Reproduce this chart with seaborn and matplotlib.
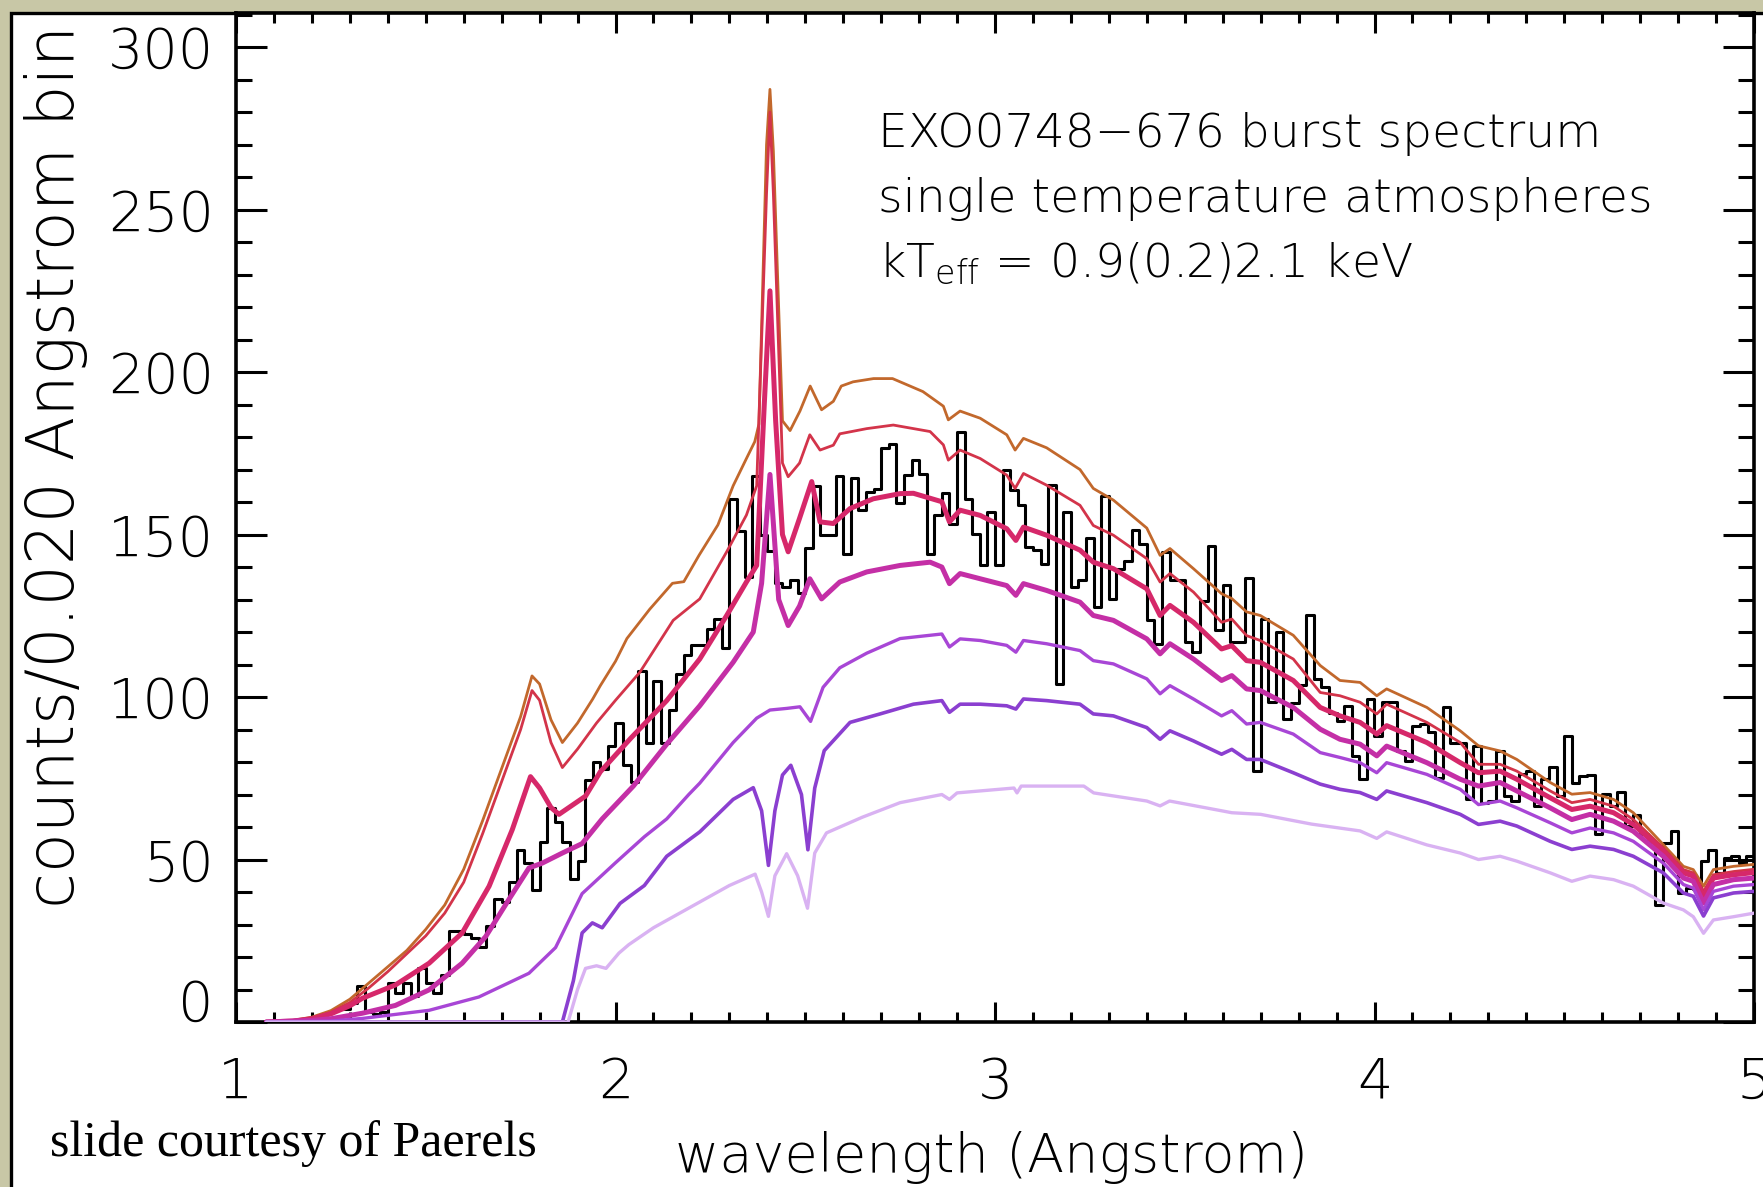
import numpy as np
import pandas as pd
import matplotlib
matplotlib.use("Agg")
import matplotlib.pyplot as plt
import seaborn as sns
from matplotlib.patches import Rectangle
from matplotlib.ticker import MultipleLocator, FuncFormatter
from matplotlib.transforms import ScaledTranslation

sns.set_theme(style="ticks")
plt.rcParams["font.family"] = ["DejaVu Sans"]
plt.rcParams["font.weight"] = "light"
plt.rcParams["mathtext.fontset"] = "dejavusans"
for key in ("text.color", "axes.labelcolor", "xtick.color", "ytick.color", "axes.edgecolor"):
    plt.rcParams[key] = "black"

# ---- observed burst spectrum: counts per 0.020 A bin, first bin starts at 1.28 A
bin_start = 1.28
bin_width = 0.02
counts = [
    4, 6, 11, 3, 2.5, 3, 12, 9, 12, 8, 16.5, 12, 9, 14.5, 28, 28, 27, 26, 23, 29.5,
    38, 37, 43, 53, 49, 40.5, 55.5, 66, 61.5, 55.5, 44, 49.5, 74.5, 80, 78, 85,
    92, 79, 74, 108, 86, 105, 86, 96, 107, 113, 116, 116, 121, 124, 115, 161, 151, 137,
    168, 150, 145, 135, 134, 136, 132, 146, 165, 150, 150, 168, 144, 167.5, 157.5, 163,
    164, 176.5, 178, 159.6, 168.3, 173, 168.7, 144, 156, 162.7, 153.4, 181.7, 161, 150.3,
    140.5, 157, 140.5, 170, 163.7, 159, 146.2, 145.2, 141, 165.4, 104, 157, 134, 136,
    148.8, 127.7, 162, 130.3, 139.5, 142, 151.3, 147.2, 123.6, 116.4, 144.7, 136, 136,
    117, 114, 129.7, 146.5, 120.5, 134.5, 117, 117, 136.6, 77.3, 124, 98.4, 120, 93.2,
    98.1, 103.7, 125.1, 105.5, 103, 95, 92.5, 97.2, 81.9, 74.7, 99.4, 87.9, 98.6, 98.6,
    83.4, 80.3, 91.2, 91.7, 89.1, 75.2, 96.8, 86, 86, 68.5, 85, 67.3, 68, 83.4, 69.5,
    68, 76.2, 77.2, 66.4, 74.7, 78.5, 69.5, 87.9, 73.7, 75.6, 76, 58, 70.1, 66.4, 70.7,
    60.3, 63.7, 58, 55.3, 36.1, 55, 58.7, 39.7, 41.2, 41, 49.5, 52.9, 45.9, 50.5, 51,
    49, 51,
]

# ---- model atmosphere spectra, kT_eff = 2.1 ... 0.9 keV (top to bottom)
lam_21 = [1.08, 1.15, 1.20, 1.25, 1.30, 1.35, 1.40, 1.45, 1.50, 1.55, 1.60, 1.65, 1.70, 1.75,
          1.78, 1.80, 1.83, 1.86, 1.90, 1.94, 1.96, 2.00, 2.03, 2.09, 2.15, 2.18, 2.22, 2.27,
          2.31, 2.345, 2.367, 2.378, 2.398, 2.407, 2.416, 2.44, 2.46, 2.486, 2.513, 2.543,
          2.574, 2.595, 2.626, 2.68, 2.73, 2.81, 2.864, 2.877, 2.908, 2.961, 3.031, 3.053,
          3.075, 3.136, 3.224, 3.259, 3.312, 3.40, 3.435, 3.461, 3.523, 3.597, 3.624, 3.663,
          3.699, 3.786, 3.857, 3.909, 3.962, 4.006, 4.032, 4.138, 4.226, 4.274, 4.331, 4.375,
          4.463, 4.52, 4.568, 4.63, 4.682, 4.761, 4.814, 4.84, 4.867, 4.893, 4.946, 5.0]
cnt_21 = [0, 0.5, 1.5, 3.5, 7, 12, 17, 22, 28.5, 36, 47, 62, 78, 94,
          106.5, 104, 93, 86, 92, 99.4, 103.5, 111, 118, 127, 135, 135.5, 143.6, 153,
          165, 173.4, 178.6, 184, 270, 287, 268, 185, 182, 188, 195.7, 188.4,
          191, 195.7, 197, 198, 198, 194, 189.5, 185.3, 188, 185.8, 180.7, 176,
          179.6, 176.7, 170, 164.2, 160.6, 152, 143.6, 145.7, 139.5, 131.8, 130.3, 126.2,
          125.1, 119, 109.7, 105.1, 104.5, 100.4, 102.5, 96.8, 89.6, 85, 83.4, 80.8,
          73.7, 70.1, 70.6, 68.5, 64.4, 54.6, 47.9, 46.9, 41.8, 46.9, 47.9, 48.5]

lam_19 = [1.08, 1.15, 1.20, 1.25, 1.30, 1.35, 1.40, 1.45, 1.50, 1.55, 1.60, 1.65, 1.70, 1.75,
          1.78, 1.80, 1.83, 1.86, 1.90, 1.95, 2.00, 2.064, 2.152, 2.222, 2.293, 2.345, 2.372,
          2.398, 2.407, 2.416, 2.44, 2.455, 2.485, 2.512, 2.539, 2.574, 2.591, 2.662, 2.732,
          2.829, 2.864, 2.877, 2.908, 2.961, 3.031, 3.053, 3.075, 3.136, 3.224, 3.259, 3.312,
          3.40, 3.435, 3.461, 3.523, 3.597, 3.624, 3.663, 3.699, 3.786, 3.857, 3.909, 3.962,
          4.006, 4.032, 4.138, 4.226, 4.274, 4.331, 4.375, 4.463, 4.52, 4.568, 4.63, 4.682,
          4.761, 4.814, 4.84, 4.867, 4.893, 4.946, 5.0]
cnt_19 = [0, 0.4, 1.3, 3, 6, 10.5, 15.5, 21, 26.5, 33.5, 43, 58, 74, 90,
          102, 99, 86, 78.3, 84, 92, 99, 107.6, 123.6, 130.2, 144.7, 156, 165,
          255, 280, 255, 172, 167.8, 172, 180.7, 176, 177.5, 181, 182.6, 183.7,
          181.7, 177.6, 172.9, 176, 173.4, 168.3, 164.2, 168.8, 165.2, 159, 152.8, 149.8,
          142.6, 135.4, 138, 132.3, 123, 124, 118.9, 117.4, 111.7, 101.4, 100.4, 98.4,
          94.8, 97.8, 92.2, 86, 79.3, 79.3, 77.2, 71.1, 67.5, 68.5, 66.4, 62.3,
          53.6, 46.9, 45.9, 40.2, 45.3, 46.3, 47]

lam_17 = [1.08, 1.15, 1.20, 1.25, 1.30, 1.333, 1.42, 1.509, 1.596, 1.667, 1.728, 1.776, 1.80,
          1.83, 1.851, 1.921, 1.96, 2.04, 2.135, 2.222, 2.293, 2.345, 2.372, 2.392, 2.407,
          2.422, 2.44, 2.455, 2.485, 2.517, 2.539, 2.574, 2.618, 2.679, 2.75, 2.785, 2.86,
          2.88, 2.908, 2.961, 3.031, 3.055, 3.075, 3.136, 3.224, 3.259, 3.312, 3.40, 3.435,
          3.461, 3.523, 3.597, 3.624, 3.663, 3.699, 3.786, 3.857, 3.909, 3.962, 4.006, 4.032,
          4.138, 4.226, 4.274, 4.331, 4.375, 4.463, 4.52, 4.568, 4.63, 4.682, 4.761, 4.814,
          4.84, 4.867, 4.893, 4.946, 5.0]
cnt_17 = [0, 0.3, 1, 2.5, 5, 7.3, 11.4, 18.1, 27.4, 41.8, 59.2, 75.5, 72,
          66, 63.9, 69.5, 77, 87.3, 98.9, 111.7, 125.1, 135.4, 140.5, 190, 225,
          185, 150, 144.7, 155, 166.3, 153.9, 153.4, 158, 161, 162.6, 162.7, 160.1,
          153.9, 157.5, 155.9, 151.8, 148.2, 152.3, 149.8, 145.2, 141.5, 139.5, 133.3, 125.1,
          128.2, 123, 114.8, 115.8, 111.2, 110.7, 105.1, 96.8, 94.2, 92.2, 88.6, 91.2,
          86, 79.8, 76.7, 77.2, 74.7, 69, 65.4, 66.4, 64.4, 60.8, 52.6, 45.9,
          44.9, 38.7, 44.3, 45.3, 46]

lam_15 = [1.08, 1.20, 1.25, 1.333, 1.42, 1.509, 1.596, 1.658, 1.719, 1.772, 1.807, 1.86,
          1.912, 1.965, 2.047, 2.135, 2.222, 2.31, 2.363, 2.385, 2.407, 2.43, 2.455, 2.485,
          2.512, 2.543, 2.591, 2.662, 2.75, 2.829, 2.86, 2.88, 2.908, 2.961, 3.031, 3.055,
          3.075, 3.136, 3.224, 3.259, 3.312, 3.40, 3.435, 3.461, 3.523, 3.597, 3.624, 3.663,
          3.699, 3.786, 3.857, 3.909, 3.962, 4.006, 4.032, 4.138, 4.226, 4.274, 4.331, 4.375,
          4.463, 4.52, 4.568, 4.63, 4.682, 4.761, 4.814, 4.84, 4.867, 4.893, 4.946, 5.0]
cnt_15 = [0, 0.5, 1, 2.7, 5.1, 9.9, 18.1, 26.3, 37.7, 47.4, 48.9, 52,
          54.9, 62.5, 72.6, 85.5, 97.3, 110.7, 120, 135, 168.5, 130, 122, 128,
          136.4, 130.2, 135.4, 138.5, 140.5, 141.5, 140, 134.9, 138, 136.4, 134.3, 131.3,
          134.9, 132.8, 129.2, 125.1, 123.6, 117.9, 113.3, 116.4, 111.7, 105.1, 106.6, 102.5,
          102, 96.8, 90.1, 87, 85.5, 81.9, 84.9, 79.8, 74.7, 72.6, 73.7, 71.1,
          65.9, 62.3, 63.9, 61.8, 58.7, 51, 44.3, 43.3, 36.6, 42.3, 43.8, 44.3]

lam_13 = [1.08, 1.25, 1.333, 1.509, 1.64, 1.772, 1.842, 1.912, 2.0, 2.076, 2.135, 2.193,
          2.222, 2.31, 2.372, 2.407, 2.451, 2.486, 2.514, 2.547, 2.591, 2.662, 2.75, 2.86,
          2.88, 2.908, 2.961, 3.031, 3.055, 3.075, 3.136, 3.224, 3.259, 3.312, 3.40, 3.435,
          3.461, 3.523, 3.597, 3.624, 3.663, 3.699, 3.786, 3.857, 3.909, 3.962, 4.006, 4.032,
          4.138, 4.226, 4.274, 4.331, 4.375, 4.463, 4.52, 4.568, 4.63, 4.682, 4.761, 4.814,
          4.84, 4.867, 4.893, 4.946, 5.0]
cnt_13 = [0, 0.3, 1.1, 3.6, 7.7, 15, 22.9, 39.5, 49, 57, 62.5, 70,
          73.5, 86, 93.5, 96, 96.5, 97, 92.5, 103, 109, 113.5, 118, 119.4,
          115.4, 117.9, 117.4, 115.9, 113.8, 117.4, 116.4, 114.3, 111.2, 110.2, 105.6, 101,
          103.5, 99.4, 94.2, 95.8, 91.7, 92.2, 88.6, 82.9, 81.4, 79.8, 76.7, 79.8,
          76.2, 71.6, 66.9, 68, 65.9, 61.3, 58.2, 59.7, 58.2, 55.6, 48.9, 42.3,
          41.2, 34.5, 40.2, 41.8, 42.3]

lam_11 = [1.08, 1.86, 1.889, 1.912, 1.939, 1.965, 2.012, 2.076, 2.135, 2.222, 2.31, 2.363,
          2.385, 2.403, 2.42, 2.44, 2.462, 2.49, 2.507, 2.525, 2.55, 2.618, 2.697, 2.785,
          2.86, 2.88, 2.908, 2.961, 3.031, 3.055, 3.075, 3.136, 3.224, 3.259, 3.312, 3.40,
          3.435, 3.461, 3.523, 3.597, 3.624, 3.663, 3.699, 3.786, 3.857, 3.909, 3.962, 4.006,
          4.032, 4.138, 4.226, 4.274, 4.331, 4.375, 4.463, 4.52, 4.568, 4.63, 4.682, 4.761,
          4.814, 4.84, 4.867, 4.893, 4.946, 5.0]
cnt_11 = [0, 0, 12.7, 27.4, 30.5, 29, 36.5, 42, 51, 58.5, 68.5, 72.1,
          65, 48.2, 65, 76, 79, 70, 53, 72, 83.5, 92.2, 94.8, 97.8,
          98.9, 95.3, 97.8, 97.8, 97.3, 96.3, 99.4, 98.9, 97.8, 94.8, 94.2, 90.6,
          87, 89.6, 86.5, 82.4, 83.9, 80.8, 80.8, 76.7, 73.2, 71.6, 70.6, 68.5,
          71.1, 67.5, 63.9, 60.8, 61.8, 60.3, 55.6, 53.1, 54.1, 53.1, 51, 45.9,
          39.7, 38.7, 32.6, 38.2, 39.7, 40.2]

lam_09 = [1.08, 1.875, 1.90, 1.921, 1.95, 1.975, 2.009, 2.035, 2.10, 2.20, 2.30, 2.368,
          2.385, 2.403, 2.42, 2.451, 2.48, 2.506, 2.525, 2.556, 2.65, 2.75, 2.86, 2.88,
          2.90, 3.05, 3.058, 3.069, 3.234, 3.26, 3.40, 3.435, 3.46, 3.597, 3.624, 3.70,
          3.834, 3.962, 4.006, 4.032, 4.138, 4.226, 4.274, 4.331, 4.375, 4.463, 4.52, 4.568,
          4.63, 4.682, 4.761, 4.814, 4.84, 4.867, 4.893, 4.946, 5.0]
cnt_09 = [0, 0, 10, 16.5, 17.3, 16.5, 21.2, 23.8, 29, 35.5, 42, 45.5,
          40, 32.5, 45, 51.8, 45, 35, 52, 58.2, 63, 67.5, 70, 68.5,
          70.5, 72, 70.5, 72.6, 72.6, 70.5, 68, 66.5, 68, 65, 64.4, 63.9,
          60.9, 58.8, 56.5, 58.5, 54.5, 52, 50, 51, 49.5, 45.9, 43.3, 44.9,
          43.8, 41.8, 36.6, 34.5, 32.4, 27.3, 31.4, 32.4, 33.5]

models = [
    (lam_21, cnt_21, "#c2682c", 2.0),
    (lam_19, cnt_19, "#d3344a", 2.0),
    (lam_17, cnt_17, "#d6286a", 3.6),
    (lam_15, cnt_15, "#c42fa6", 3.6),
    (lam_13, cnt_13, "#a846d6", 2.4),
    (lam_11, cnt_11, "#8b3fd0", 2.6),
    (lam_09, cnt_09, "#d9b2f2", 2.4),
]

W, H = 1763, 1187
fig = plt.figure(figsize=(W / 100, H / 100), dpi=100, facecolor="#c8c7a6")

# white slide panel with a black frame
fig.add_artist(Rectangle((11 / W, -0.05), 1.1, 1.05 - 13 / H, transform=fig.transFigure,
                         facecolor="white", edgecolor="black", linewidth=2.4, zorder=-5))

ax = fig.add_axes([236 / W, 1 - 1022 / H, (1754 - 236) / W, (1022 - 13) / H])
ax.set_facecolor("white")

edges = bin_start + bin_width * np.arange(len(counts) + 1)
spectrum = pd.DataFrame({"wavelength": edges[:-1] + bin_width / 2, "counts": counts})
sns.histplot(data=spectrum, x="wavelength", weights="counts", bins=edges.tolist(),
             element="step", fill=False, color="black", linewidth=2.2, ax=ax, zorder=2)

for lam, cnt, col, lw in models:
    sns.lineplot(x=lam, y=cnt, color=col, linewidth=lw, ax=ax, estimator=None,
                 sort=False, zorder=3)

ax.set_xlim(1, 5)
ax.set_ylim(0, 310.5)
ax.set_xlabel("")
ax.set_ylabel("")

ax.xaxis.set_major_locator(MultipleLocator(1))
ax.xaxis.set_minor_locator(MultipleLocator(0.1))
ax.yaxis.set_major_locator(MultipleLocator(50))
ax.yaxis.set_minor_locator(MultipleLocator(10))
ax.xaxis.set_major_formatter(FuncFormatter(lambda v, p: "%d" % round(v)))
ax.yaxis.set_major_formatter(FuncFormatter(lambda v, p: "" if abs(v) < 1e-6 else "%d" % round(v)))

ax.tick_params(which="both", direction="in", top=True, right=True, width=2.2, color="black")
ax.tick_params(axis="x", which="major", length=14.5, pad=24, labelsize=40, labelcolor="black")
ax.tick_params(axis="x", which="minor", length=7.5)
ax.tick_params(axis="y", which="major", length=22, pad=16, labelsize=40, labelcolor="black")
ax.tick_params(axis="y", which="minor", length=11.5)
for s in ax.spines.values():
    s.set_linewidth(2.6)
    s.set_color("black")

# the zero label sits a little above its tick
ax.text(0, 0, "0", fontsize=40, ha="right", va="center", color="black",
        transform=ax.get_yaxis_transform() + ScaledTranslation(-16 / 72, 16 / 100, fig.dpi_scale_trans))

fig.text(56 / W, 1 - 466 / H, "counts/0.020 Angstrom bin", rotation=90, fontsize=47,
         ha="center", va="center", color="black")
fig.text(992 / W, 1 - 1158 / H, "wavelength (Angstrom)", fontsize=39, ha="center",
         va="center", color="black")

tx = 878 / W
fig.text(tx, 1 - 147 / H, "EXO0748\u2212676 burst spectrum", fontsize=34, va="baseline",
         color="black")
fig.text(tx, 1 - 212 / H, "single temperature atmospheres", fontsize=34, va="baseline",
         color="black")
fig.text(tx, 1 - 277 / H, r"kT$_{\rm eff}$ = 0.9(0.2)2.1 keV", fontsize=34,
         va="baseline", color="black")

fig.text(50 / W, 1 - 1156 / H, "slide courtesy of Paerels", fontsize=36, fontweight="normal",
         family=["Liberation Serif", "DejaVu Serif"], va="baseline", color="black")

fig.savefig("out.png", dpi=100, facecolor=fig.get_facecolor())
